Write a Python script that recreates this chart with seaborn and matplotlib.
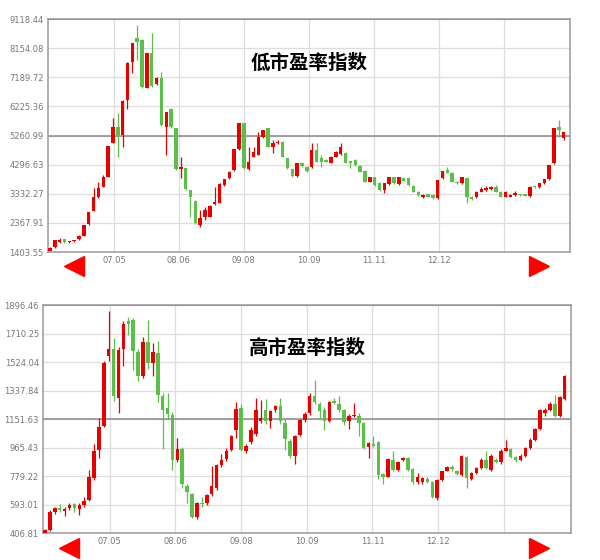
import numpy as np
import matplotlib
matplotlib.use("Agg")
import matplotlib.pyplot as plt
import seaborn as sns

# eixo x: rótulos de data
date_labels = ['07.05', '08.06', '09.08', '10.09', '11.11', '12.12', '']

# índice de baixo P/L (abertura, fechamento, máxima, mínima)
low_open = [1445, 1556, 1722, 1820, 1722, 1755, 1820, 1931, 2317, 2770,
            3212, 3565, 3896, 5022, 5552, 5276, 6435, 7683, 8500, 8422,
            6844, 7981, 6965, 7153, 5552, 6126, 5497, 4139, 4172, 3455,
            3101, 2295, 2571, 2571, 2991, 3035, 3620, 3841, 4117, 4802,
            5664, 4140, 4560, 4615, 5200, 5498, 4869, 5001, 5056, 4505,
            4140, 3919, 4339, 4228, 4228, 4781, 4505, 4450, 4361, 4560,
            4648, 4692, 4416, 4450, 4250, 4096, 3732, 3875, 3698, 3456,
            3655, 3875, 3655, 3850, 3842, 3588, 3400, 3213, 3312, 3290,
            3180, 3842, 4118, 4030, 3732, 3677, 3842, 3235, 3213, 3400,
            3456, 3478, 3544, 3400, 3235, 3235, 3290, 3312, 3300, 3257,
            3588, 3544, 3677, 3809, 4339, 5553, 5167]
low_close = [1522, 1798, 1798, 1722, 1765, 1798, 1931, 2295, 2715, 3212,
             3510, 3896, 4912, 5552, 5276, 6413, 7650, 8312, 8367, 6877,
             7981, 6899, 7175, 5608, 6027, 5530, 4139, 4205, 3477, 3212,
             2350, 2516, 2794, 2936, 3046, 3653, 3808, 4062, 4802, 5663,
             4173, 4394, 4725, 5222, 5443, 4891, 5001, 5056, 4560, 4173,
             3919, 4339, 4250, 4096, 4781, 4394, 4394, 4394, 4560, 4725,
             4891, 4361, 4339, 4284, 4063, 3732, 3875, 3621, 3456, 3677,
             3875, 3677, 3875, 3760, 3621, 3400, 3290, 3290, 3235, 3180,
             3787, 4085, 4030, 3732, 3677, 3875, 3235, 3147, 3400, 3478,
             3511, 3544, 3400, 3235, 3400, 3290, 3367, 3280, 3270, 3566,
             3544, 3677, 3809, 4284, 5498, 5443, 5365]
low_high = [1560, 1810, 1860, 1840, 1780, 1810, 1950, 2310, 2730, 3510,
            3730, 3950, 4930, 5830, 6000, 6440, 7680, 8330, 8920, 8450,
            8000, 8665, 7200, 7370, 6050, 6180, 5520, 4560, 4200, 3470,
            3120, 2790, 2900, 2960, 3565, 3680, 3830, 4080, 4820, 5680,
            5680, 4890, 4890, 5388, 5460, 5520, 5112, 5100, 5080, 4520,
            4160, 4360, 4380, 4250, 5000, 5000, 4615, 4470, 4580, 4750,
            5001, 4710, 4430, 4470, 4270, 4110, 3900, 3890, 3720, 3700,
            3900, 3900, 3890, 3870, 3860, 3610, 3420, 3310, 3330, 3310,
            3800, 4100, 4230, 4050, 3750, 3900, 3860, 3250, 3420, 3560,
            3600, 3600, 3620, 3420, 3420, 3310, 3430, 3330, 3320, 3580,
            3600, 3690, 3830, 4300, 5510, 5774, 5380]
low_low = [1420, 1540, 1700, 1710, 1700, 1740, 1800, 1920, 2300, 2750,
           3200, 3540, 3880, 5000, 4560, 4890, 6126, 7318, 7760, 6850,
           6820, 6880, 6940, 5580, 4614, 5500, 4110, 3840, 3450, 2570,
           2320, 2240, 2460, 2550, 2970, 3010, 3600, 3820, 4100, 4780,
           4150, 4120, 4540, 4600, 5180, 4870, 4670, 4980, 4540, 4150,
           3900, 3900, 4230, 4050, 4200, 4370, 4230, 4370, 4340, 4540,
           4630, 4340, 4173, 4260, 4040, 3710, 3710, 3600, 3430, 3345,
           3630, 3660, 3630, 3740, 3600, 3380, 3270, 3190, 3210, 3160,
           3160, 3820, 4010, 3710, 3660, 3650, 3014, 3120, 3190, 3380,
           3440, 3460, 3380, 3210, 3210, 3220, 3270, 3260, 3250, 3240,
           3530, 3530, 3660, 3790, 4320, 5222, 5100]
low_ticks = ['9118.44', '8154.08', '7189.72', '6225.36', '5260.99',
             '4296.63', '3332.27', '2367.91', '1403.55']

# índice de alto P/L
high_open = [410, 427, 547, 569, 551, 569, 595, 564, 590, 623,
             765, 951, 1108, 1562, 1610, 1290, 1610, 1792, 1796, 1591,
             1431, 1654, 1519, 1584, 1300, 1224, 1180, 885, 957, 717,
             660, 514, 600, 601, 660, 704, 853, 890, 951, 1080,
             1224, 946, 999, 1056, 1140, 1213, 1137, 1213, 1235, 1125,
             1010, 911, 1049, 1143, 1191, 1305, 1252, 1213, 1141, 1267,
             1252, 1208, 1137, 1170, 1174, 1126, 968, 990, 999, 794,
             776, 885, 820, 885, 896, 824, 737, 737, 759, 737,
             634, 750, 815, 837, 815, 787, 903, 759, 798, 831,
             885, 820, 885, 868, 946, 955, 903, 881, 911, 962,
             1012, 1086, 1191, 1213, 1252, 1174, 1283]
high_close = [427, 547, 569, 558, 564, 590, 569, 590, 617, 776,
              940, 1097, 1519, 1610, 1300, 1606, 1774, 1774, 1595, 1431,
              1654, 1519, 1589, 1307, 1213, 1185, 885, 957, 726, 678,
              514, 601, 595, 656, 717, 853, 885, 940, 1038, 1220,
              951, 977, 1082, 1213, 1160, 1137, 1202, 1235, 1137, 1023,
              911, 1043, 1143, 1185, 1305, 1261, 1202, 1137, 1261, 1257,
              1213, 1130, 1174, 1175, 1126, 962, 994, 977, 787, 776,
              890, 820, 868, 896, 820, 737, 772, 765, 743, 641,
              750, 809, 837, 824, 794, 907, 765, 798, 831, 885,
              831, 911, 874, 946, 962, 903, 885, 911, 962, 1016,
              1086, 1213, 1213, 1252, 1174, 1296, 1431]
high_high = [432, 560, 580, 595, 575, 600, 605, 600, 640, 820,
             990, 1160, 1530, 1860, 1680, 1620, 1790, 1818, 1810, 1610,
             1690, 1800, 1650, 1660, 1320, 1320, 1195, 1030, 970, 730,
             670, 610, 640, 665, 845, 860, 920, 960, 1050, 1260,
             1250, 990, 1100, 1290, 1278, 1280, 1210, 1245, 1290, 1150,
             1020, 1050, 1150, 1195, 1320, 1410, 1265, 1230, 1270, 1290,
             1300, 1215, 1185, 1255, 1190, 1130, 1000, 1040, 1005, 800,
             900, 945, 880, 905, 905, 830, 800, 775, 770, 745,
             760, 815, 845, 850, 820, 915, 910, 805, 840, 895,
             940, 920, 895, 955, 1016, 965, 910, 920, 970, 1025,
             1095, 1220, 1224, 1260, 1310, 1305, 1440]
high_low = [403, 420, 530, 547, 520, 560, 545, 525, 580, 615,
            750, 900, 1100, 1530, 1270, 1190, 1500, 1700, 1470, 1400,
            1420, 1480, 1430, 1260, 955, 1150, 820, 870, 700, 600,
            505, 500, 580, 590, 650, 690, 840, 880, 940, 1030,
            940, 930, 990, 1040, 1125, 1120, 1090, 1200, 1120, 950,
            895, 860, 1040, 1130, 1180, 1250, 1150, 1080, 1130, 1250,
            1200, 1110, 1085, 1168, 1040, 955, 900, 970, 760, 730,
            770, 810, 815, 875, 810, 730, 730, 725, 735, 635,
            620, 745, 810, 815, 785, 780, 700, 750, 790, 825,
            825, 815, 865, 860, 940, 895, 874, 875, 905, 955,
            1005, 1080, 1170, 1205, 1168, 1165, 1275]
high_ticks = ['1896.46', '1710.25', '1524.04', '1337.84', '1151.63',
              '965.43', '779.22', '593.01', '406.81']

RED = '#e60000'
GREEN = '#5cbf4a'

sns.set_style('white')
plt.rcParams['font.family'] = ['DejaVu Sans']


def candles(ax, o, c, h, l, ticks, title, tri_y):
    o, c, h, l = map(np.asarray, (o, c, h, l))
    x = np.arange(len(o))
    tv = [float(t) for t in ticks]
    top, bot = tv[0], tv[-1]
    up = c >= o
    cols = np.where(up, RED, GREEN)
    ax.vlines(x, l, h, colors=cols, linewidth=0.9, zorder=2)
    hgt = np.maximum(np.abs(c - o), (top - bot) * 0.006)
    ax.bar(x, hgt, bottom=np.minimum(o, c), width=0.72, color=cols,
           linewidth=0, zorder=3)
    ax.set_ylim(bot, top)
    ax.set_xlim(-0.4, 107.3)
    ax.set_yticks(tv)
    ax.set_yticklabels(ticks)
    gx = [13.2 + 13.4 * k for k in range(len(date_labels))]
    ax.set_xticks(gx)
    ax.set_xticklabels(date_labels)
    ax.tick_params(axis='both', length=0, labelsize=6, labelcolor='#777777', pad=3)
    for v in tv:
        ax.axhline(v, color='#dddddd', linewidth=0.9, zorder=0)
    for g in gx:
        ax.axvline(g, color='#dddddd', linewidth=0.9, zorder=0)
    ax.axhline(tv[4], color='#8a8a8a', linewidth=1.1, zorder=1)
    ax.axhline(top, color='#8a8a8a', linewidth=1.4, zorder=1)
    for s in ax.spines.values():
        s.set_color('#999999')
        s.set_linewidth(1.1)
    ax.text(0.5, 0.81, title, transform=ax.transAxes, ha='center', va='center',
            fontsize=14, fontweight='bold', color='black',
            family=['Noto Sans CJK SC', 'DejaVu Sans'])
    ax.plot([0.05], [tri_y], marker='<', markersize=14, color='#ff0000',
            transform=ax.transAxes, clip_on=False)
    ax.plot([0.94], [tri_y], marker='>', markersize=14, color='#ff0000',
            transform=ax.transAxes, clip_on=False)


fig = plt.figure(figsize=(6, 5.6), dpi=100)
ax1 = fig.add_axes([0.08, 0.55, 0.87, 0.416])
ax2 = fig.add_axes([0.0717, 0.0482, 0.88, 0.407])

candles(ax1, low_open, low_close, low_high, low_low, low_ticks, '低市盈率指数', -0.06)
candles(ax2, high_open, high_close, high_high, high_low, high_ticks, '高市盈率指数', -0.065)

fig.savefig('out.png', dpi=100)
